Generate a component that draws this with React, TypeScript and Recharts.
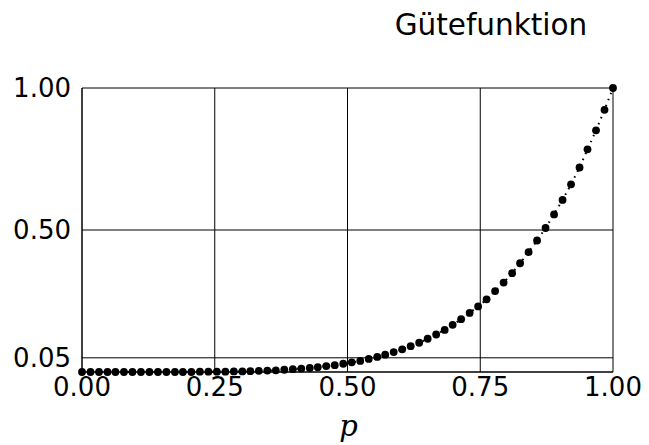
import { CartesianGrid, Line, LineChart, XAxis, YAxis } from "recharts";

// p = k/63, k = 0..63
const pValues = [
  0, 0.016, 0.032, 0.048, 0.063, 0.079, 0.095, 0.111, 0.127, 0.143, 0.159, 0.175, 0.19, 0.206, 0.222,
  0.238, 0.254, 0.27, 0.286, 0.302, 0.317, 0.333, 0.349, 0.365, 0.381, 0.397, 0.413, 0.429, 0.444, 0.46,
  0.476, 0.492, 0.508, 0.524, 0.54, 0.556, 0.571, 0.587, 0.603, 0.619, 0.635, 0.651, 0.667, 0.683,
  0.698, 0.714, 0.73, 0.746, 0.762, 0.778, 0.794, 0.81, 0.825, 0.841, 0.857, 0.873, 0.889, 0.905,
  0.921, 0.937, 0.952, 0.968, 0.984, 1,
];

const power = [
  0, 0, 0, 0, 0, 0, 0, 0, 0, 0, 0, 0, 0, 0, 0.001,
  0.001, 0.001, 0.001, 0.002, 0.002, 0.003, 0.004, 0.005, 0.006, 0.008, 0.01, 0.012, 0.014, 0.017, 0.021,
  0.024, 0.029, 0.034, 0.039, 0.046, 0.053, 0.061, 0.07, 0.08, 0.091, 0.103, 0.117, 0.132, 0.148,
  0.166, 0.186, 0.208, 0.231, 0.256, 0.285, 0.315, 0.348, 0.383, 0.422, 0.463, 0.507, 0.555, 0.606,
  0.661, 0.72, 0.784, 0.851, 0.923, 1,
];

const xTicks = [0, 0.25, 0.5, 0.75, 1];
const yTicks = [0.05, 0.5, 1];

const data = pValues.map((p, i) => ({ p, g: power[i] }));

const font = "'DejaVu Sans', sans-serif";

function PLabel({ viewBox }: any) {
  const cx = viewBox.x + viewBox.width / 2;
  return (
    <text
      x={cx + 1}
      y={436}
      textAnchor="middle"
      fontFamily="'DejaVu Serif', serif"
      fontStyle="italic"
      fontSize={29}
      fill="#000"
    >
      p
    </text>
  );
}

export default function App() {
  return (
    <div style={{ position: "absolute", left: 0, top: 0, width: 649, height: 445, background: "#fff" }}>
      <div
        style={{
          position: "absolute",
          left: 381,
          top: 8,
          width: 220,
          textAlign: "center",
          fontFamily: font,
          fontSize: 29.5,
          color: "#000",
        }}
      >
        Gütefunktion
      </div>
      <LineChart width={649} height={445} data={data} margin={{ top: 88, right: 36, bottom: 0, left: 0 }}>
        <CartesianGrid stroke="#000" strokeWidth={1} />
        <XAxis
          dataKey="p"
          type="number"
          domain={[0, 1]}
          ticks={xTicks}
          tickFormatter={(v: number) => v.toFixed(2)}
          height={73}
          tickLine={false}
          tickSize={0}
          tickMargin={6}
          axisLine={{ stroke: "#000" }}
          tick={{ fill: "#000", fontFamily: font, fontSize: 26 }}
          label={<PLabel />}
        />
        <YAxis
          type="number"
          domain={[0, 1]}
          ticks={yTicks}
          tickFormatter={(v: number) => v.toFixed(2)}
          width={82}
          tickLine={false}
          tickSize={0}
          tickMargin={11}
          axisLine={{ stroke: "#000" }}
          tick={{ fill: "#000", fontFamily: font, fontSize: 26 }}
        />
        <Line
          dataKey="g"
          type="linear"
          stroke="#000"
          strokeWidth={2}
          strokeDasharray="1.5 5"
          dot={{ r: 3.9, fill: "#000", stroke: "none" }}
          isAnimationActive={false}
        />
      </LineChart>
    </div>
  );
}
